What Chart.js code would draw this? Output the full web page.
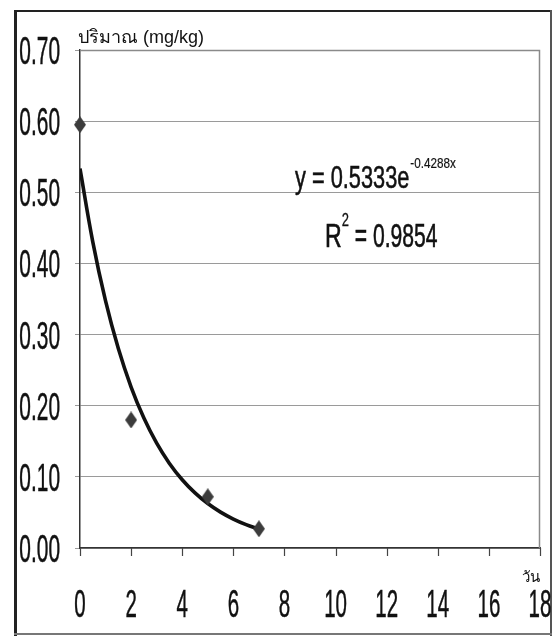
<!DOCTYPE html>
<html>
<head>
<meta charset="utf-8">
<script src="https://cdn.jsdelivr.net/npm/chart.js@4.4.1/dist/chart.umd.min.js"></script>
<style>
html,body{margin:0;padding:0;background:#fff;}
canvas{display:block;}
</style>
</head>
<body>
<canvas id="c" width="554" height="636"></canvas>
<script>
// ---- data ----
const days = [0, 2, 5, 7];
const amount = [0.595, 0.18, 0.072, 0.027];
const xTicks = [0, 2, 4, 6, 8, 10, 12, 14, 16, 18];
const yTicks = [0.00, 0.10, 0.20, 0.30, 0.40, 0.50, 0.60, 0.70];
// exponential trendline shown on the chart: y = a * e^(b x)
const trendA = 0.5333;
const trendB = -0.4288;
const trendX = [0, 0.5, 1, 1.5, 2, 2.5, 3, 3.5, 4, 4.5, 5, 5.5, 6, 6.5, 7];
const yTitle = 'ปริมาณ (mg/kg)';
const xTitle = 'วัน';
const eqMain = 'y = 0.5333e';
const eqSup = '-0.4288x';
const r2Main = 'R';
const r2Sup = '2';
const r2Rest = ' = 0.9854';

const FONT = '"Liberation Sans", Arial, sans-serif';
const trendData = trendX.map(x => ({x: x, y: trendA * Math.exp(trendB * x)}));
const pts = days.map((d, i) => ({x: d, y: amount[i]}));

// elongated diamond marker
const marker = document.createElement('canvas');
marker.width = 12; marker.height = 17;
(function () {
  const m = marker.getContext('2d');
  m.fillStyle = '#3c3c3c';
  m.beginPath();
  m.moveTo(6, 0); m.lineTo(12, 8.5); m.lineTo(6, 17); m.lineTo(0, 8.5);
  m.closePath(); m.fill();
})();

function narrowText(ctx, text, x, y, size, sx, align, bold) {
  ctx.save();
  ctx.font = size + 'px ' + FONT;
  const w = ctx.measureText(text).width * sx;
  let left = x;
  if (align === 'right') left = x - w;
  else if (align === 'center') left = x - w / 2;
  ctx.translate(left, y);
  ctx.scale(sx, 1);
  ctx.textAlign = 'left';
  ctx.fillText(text, 0, 0);
  if (bold) {
    ctx.strokeStyle = ctx.fillStyle;
    ctx.lineWidth = bold;
    ctx.strokeText(text, 0, 0);
  }
  ctx.restore();
  return w;
}

const decor = {
  id: 'decor',
  beforeDatasetsDraw(chart) {
    const {ctx, chartArea: a} = chart;
    ctx.save();
    ctx.strokeStyle = '#8a8a8a';
    ctx.lineWidth = 1.5;
    ctx.beginPath();
    ctx.moveTo(a.left, a.top + 0.5);
    ctx.lineTo(a.right - 0.5, a.top + 0.5);
    ctx.lineTo(a.right - 0.5, a.bottom);
    ctx.stroke();
    // x tick marks below the axis
    const xs = chart.scales.x;
    ctx.strokeStyle = '#444';
    ctx.lineWidth = 1.2;
    xs.ticks.forEach(t => {
      const px = Math.round(xs.getPixelForValue(t.value)) + 0.5;
      ctx.beginPath(); ctx.moveTo(px, a.bottom); ctx.lineTo(px, a.bottom + 8); ctx.stroke();
    });
    ctx.restore();
  },
  afterDraw(chart) {
    const {ctx, chartArea: a} = chart;
    const xs = chart.scales.x, ys = chart.scales.y;
    ctx.save();
    // outer frame
    ctx.strokeStyle = '#222';
    ctx.lineWidth = 3;
    ctx.beginPath(); ctx.moveTo(15.5, 10); ctx.lineTo(15.5, 636); ctx.stroke();
    ctx.lineWidth = 2;
    ctx.beginPath(); ctx.moveTo(14, 11); ctx.lineTo(551, 11); ctx.stroke();
    ctx.strokeStyle = '#555';
    ctx.beginPath(); ctx.moveTo(551, 10); ctx.lineTo(551, 636); ctx.stroke();
    ctx.strokeStyle = '#777';
    ctx.beginPath(); ctx.moveTo(14, 634); ctx.lineTo(552, 634); ctx.stroke();

    ctx.fillStyle = '#111';
    ctx.textBaseline = 'alphabetic';
    // tick labels (narrow)
    xs.ticks.forEach(t => {
      narrowText(ctx, String(t.value), xs.getPixelForValue(t.value), a.bottom + 69, 38, 0.54, 'center', 0.5);
    });
    ys.ticks.forEach(t => {
      narrowText(ctx, Number(t.value).toFixed(2), a.left - 20, ys.getPixelForValue(t.value) + 14, 38, 0.55, 'right', 0.5);
    });
    // y title
    ctx.font = '18px ' + FONT;
    ctx.textAlign = 'left';
    ctx.fillText(yTitle, a.left - 2, a.top - 7);
    // x title
    ctx.font = '15px "Liberation Serif", serif';
    ctx.textAlign = 'right';
    ctx.fillText(xTitle, a.right, a.bottom + 34);
    // equation
    ctx.textAlign = 'left';
    let w = narrowText(ctx, eqMain, 295, 188, 32, 0.68, 'left', 0.6);
    narrowText(ctx, eqSup, 295 + w + 1, 168, 15, 0.78, 'left', 0.2);
    // R2
    let rw = narrowText(ctx, r2Main, 325, 247, 33, 0.70, 'left', 0.6);
    let sw = narrowText(ctx, r2Sup, 325 + rw, 226, 18, 0.72, 'left', 0.3);
    narrowText(ctx, r2Rest, 325 + rw + sw, 247, 33, 0.64, 'left', 0.6);
    ctx.restore();
  }
};

new Chart(document.getElementById('c'), {
  type: 'scatter',
  data: {
    datasets: [
      {
        label: 'trend',
        type: 'line',
        data: trendData,
        borderColor: '#111',
        borderWidth: 3.6,
        pointRadius: 0,
        tension: 0.4,
        fill: false,
        order: 2
      },
      {
        label: 'amount',
        data: pts,
        pointStyle: marker,
        pointRadius: 7,
        clip: false,
        order: 1
      }
    ]
  },
  plugins: [decor],
  options: {
    responsive: false,
    animation: false,
    layout: {padding: {top: 50, right: 14, bottom: 0, left: 0}},
    plugins: {legend: {display: false}, tooltip: {enabled: false}},
    scales: {
      x: {
        type: 'linear',
        min: 0, max: 18,
        afterBuildTicks(s) { s.ticks = xTicks.map(v => ({value: v})); },
        afterFit(s) { s.height = 88; },
        grid: {drawOnChartArea: false, drawTicks: false},
        border: {display: true, color: '#333', width: 1.5},
        ticks: {display: false}
      },
      y: {
        min: 0, max: 0.7,
        afterBuildTicks(s) { s.ticks = yTicks.map(v => ({value: v})); },
        afterFit(s) { s.width = 80; },
        grid: {color: '#9a9a9a', lineWidth: 1, drawTicks: true, tickLength: 5},
        border: {display: true, color: '#333', width: 1.5},
        ticks: {display: false}
      }
    }
  }
});
</script>
</body>
</html>
